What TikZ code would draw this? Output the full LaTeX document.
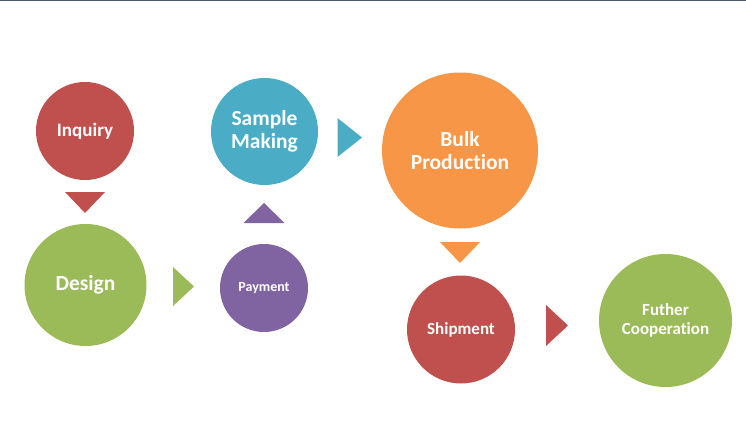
\documentclass[tikz,border=0pt]{standalone}
\usepackage{fontspec}
\setmainfont[Ligatures={NoCommon}]{Carlito}
\definecolor{cred}{HTML}{C0504D}
\definecolor{cgreen}{HTML}{9BBB59}
\definecolor{cblue}{HTML}{4BACC6}
\definecolor{cpurple}{HTML}{8064A2}
\definecolor{corange}{HTML}{F79646}
\definecolor{topline}{HTML}{4B5A6B}
\begin{document}
\begin{tikzpicture}[x=1pt,y=-1pt,
  stage/.style={circle,inner sep=0pt,text=white,align=center,font=\bfseries},
  sz/.style={minimum size=#1}]
\useasboundingbox[fill=white] (0,0) rectangle (746,423);
\fill[topline] (0,0) rectangle (746,1.3);
% stages
\node[stage,fill=cred,sz=98,font=\bfseries\fontsize{19}{22}\selectfont] (inq) at (85,131) {Inquiry};
\node[stage,fill=cgreen,sz=122,font=\bfseries\fontsize{21.5}{25}\selectfont] (des) at (85.5,285) {Design};
\node[stage,fill=cpurple,sz=88,font=\bfseries\fontsize{14}{16}\selectfont] (pay) at (264,288) {Payment};
\node[stage,fill=cblue,sz=107,font=\bfseries\fontsize{21.5}{23.5}\selectfont] (smp) at (264.5,131.5) {Sample\\Making};
\node[stage,fill=corange,sz=156,font=\bfseries\fontsize{21.5}{23.5}\selectfont] (blk) at (460,150.5) {Bulk\\Production};
\node[stage,fill=cred,sz=108,font=\bfseries\fontsize{17}{19}\selectfont] (shp) at (461,329.5) {Shipment};
\node[stage,fill=cgreen,sz=133,font=\bfseries\fontsize{17}{19.5}\selectfont] (fut) at (665.5,320.5) {Futher\\Cooperation};
% triangle connectors
\fill[cred] (65,192) -- (105,192) -- (85,213) -- cycle;
\fill[cgreen] (173,267) -- (194,286.5) -- (173,306) -- cycle;
\fill[cpurple] (243.5,223) -- (264,203) -- (284.5,223) -- cycle;
\fill[cblue] (337.5,118) -- (362,137.5) -- (337.5,157) -- cycle;
\fill[corange] (440,242) -- (480,242) -- (460,263) -- cycle;
\fill[cred] (546,305) -- (568,325.5) -- (546,346) -- cycle;
\end{tikzpicture}
\end{document}
